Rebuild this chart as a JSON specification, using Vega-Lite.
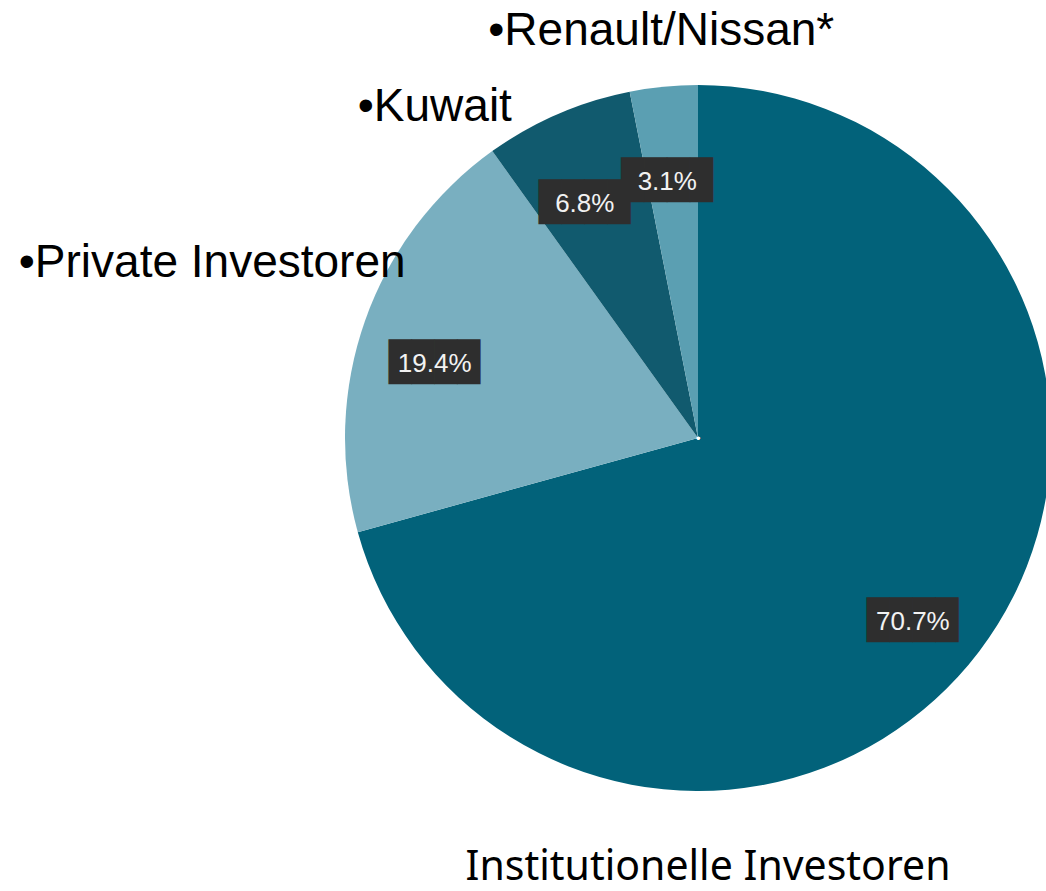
{
  "$schema": "https://vega.github.io/schema/vega-lite/v6.json",
  "width": 696,
  "height": 706,
  "autosize": "none",
  "padding": {"left": 350, "top": 85, "right": 0, "bottom": 100},
  "background": "white",
  "config": {"view": {"stroke": null}},
  "data": {
    "values": [
      {"investor": "Institutionelle Investoren", "caption": "Institutionelle Investoren", "share": 70.7, "label": "70.7%"},
      {"investor": "Private Investoren", "caption": "•Private Investoren", "share": 19.4, "label": "19.4%"},
      {"investor": "Kuwait", "caption": "•Kuwait", "share": 6.8, "label": "6.8%"},
      {"investor": "Renault/Nissan*", "caption": "•Renault/Nissan*", "share": 3.1, "label": "3.1%"}
    ]
  },
  "encoding": {
    "theta": {"field": "share", "type": "quantitative", "stack": true},
    "order": {"field": "share", "type": "quantitative", "sort": "descending"},
    "detail": {"field": "investor", "type": "nominal"}
  },
  "layer": [
    {
      "mark": {"type": "arc", "outerRadius": 353},
      "encoding": {
        "color": {
          "field": "investor",
          "type": "nominal",
          "scale": {
            "domain": ["Institutionelle Investoren", "Private Investoren", "Kuwait", "Renault/Nissan*"],
            "range": ["#02627a", "#79afc0", "#115a6e", "#5b9fb2"]
          },
          "legend": null
        }
      }
    },
    {
      "mark": {"type": "text", "radius": 275, "dx": -4, "dy": 18, "text": "████", "font": "DejaVu Sans Mono", "fontSize": 38, "color": "#2e2e2e", "align": "center", "baseline": "middle"}
    },
    {
      "mark": {"type": "text", "radius": 275, "dx": -4, "dy": 18, "font": "Liberation Sans", "fontSize": 26, "color": "#f2f2f2", "align": "center", "baseline": "middle"},
      "encoding": {"text": {"field": "label", "type": "nominal"}}
    },
    {
      "mark": {"type": "text", "radius": 409, "dx": 3, "font": "Liberation Sans", "fontSize": 46, "color": "#000000", "align": "center", "baseline": "middle"},
      "encoding": {"text": {"condition": {"test": "datum.investor === 'Renault/Nissan*'", "field": "caption"}, "value": ""}}
    },
    {
      "mark": {"type": "text", "radius": 360.6, "dx": -120, "font": "Liberation Sans", "fontSize": 46, "color": "#000000", "align": "center", "baseline": "middle"},
      "encoding": {"text": {"condition": {"test": "datum.investor === 'Kuwait'", "field": "caption"}, "value": ""}}
    },
    {
      "mark": {"type": "text", "radius": 525.8, "dx": 10, "font": "Liberation Sans", "fontSize": 46, "color": "#000000", "align": "center", "baseline": "middle"},
      "encoding": {"text": {"condition": {"test": "datum.investor === 'Private Investoren'", "field": "caption"}, "value": ""}}
    },
    {
      "mark": {"type": "text", "radius": 0, "dx": 10, "dy": 442, "font": "Noto Sans", "fontSize": 41, "color": "#000000", "align": "center", "baseline": "alphabetic"},
      "encoding": {"text": {"condition": {"test": "datum.investor === 'Institutionelle Investoren'", "field": "caption"}, "value": ""}}
    },
    {
      "mark": {"type": "text", "radius": 0, "text": "●", "fontSize": 7, "color": "#ffffff", "align": "center", "baseline": "middle"}
    }
  ]
}
